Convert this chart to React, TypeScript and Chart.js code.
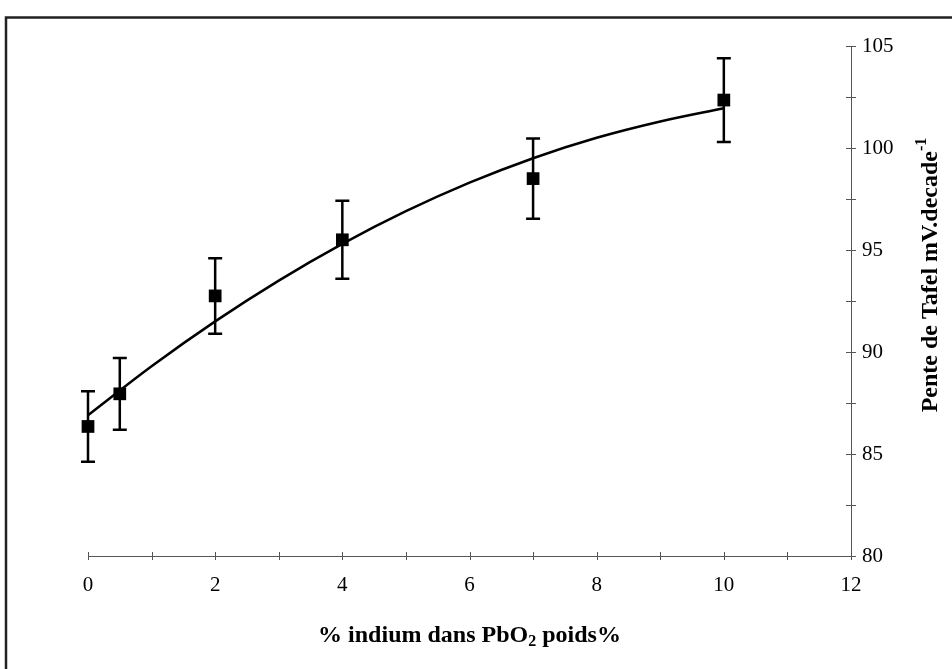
import React, { useEffect, useRef } from "react";
import { Chart, registerables } from "chart.js";

Chart.register(...registerables);

// Measured data
const indium = [0, 0.5, 2, 4, 7, 10];
const tafelSlope = [86.35, 87.95, 92.75, 95.5, 98.5, 102.35];
const errorSize = [1.73, 1.76, 1.85, 1.91, 1.97, 2.05];

// Trend curve
const trendX = [0, 1, 2, 3, 4, 5, 6, 7, 8, 9, 10];
const trendY = [86.9, 89.3, 91.5, 93.5, 95.3, 96.9, 98.3, 99.5, 100.5, 101.3, 101.95];

const xMin = 0;
const xMax = 12;
const yMin = 80;
const yMax = 105;
const xLabelTicks = [0, 2, 4, 6, 8, 10, 12];
const yLabelTicks = [80, 85, 90, 95, 100, 105];

const xTitleMain = "% indium dans PbO";
const xTitleSub = "2";
const xTitleEnd = " poids%";
const yTitleMain = "Pente de Tafel mV.decade";
const yTitleSup = "-1";

const SERIF = "'Liberation Serif', 'Times New Roman', serif";

const decorPlugin = {
  id: "decor",
  beforeDraw(chart: any) {
    const ctx = chart.ctx;
    ctx.save();
    ctx.strokeStyle = "#222";
    ctx.lineWidth = 2.5;
    ctx.beginPath();
    ctx.moveTo(6, 669);
    ctx.lineTo(6, 17.5);
    ctx.lineTo(952, 17.5);
    ctx.stroke();
    ctx.restore();
  },
  afterDraw(chart: any) {
    const ctx = chart.ctx;
    const xs = chart.scales.x;
    const ys = chart.scales.y;
    ctx.save();
    // tick marks crossing the axes
    ctx.strokeStyle = "#555";
    ctx.lineWidth = 1;
    const axisY = ys.getPixelForValue(yMin);
    const axisX = xs.getPixelForValue(xMax);
    ctx.beginPath();
    xs.ticks.forEach((t: any) => {
      const px = Math.round(xs.getPixelForValue(t.value)) + 0.5;
      ctx.moveTo(px, axisY - 4);
      ctx.lineTo(px, axisY + 4);
    });
    ys.ticks.forEach((t: any) => {
      const py = Math.round(ys.getPixelForValue(t.value)) + 0.5;
      ctx.moveTo(axisX - 5, py);
      ctx.lineTo(axisX + 5, py);
    });
    ctx.stroke();

    // x title
    ctx.fillStyle = "#000";
    ctx.textBaseline = "middle";
    const big = "bold 24px " + SERIF;
    const small = "bold 16px " + SERIF;
    ctx.font = big;
    const w1 = ctx.measureText(xTitleMain).width;
    const w3 = ctx.measureText(xTitleEnd).width;
    ctx.font = small;
    const w2 = ctx.measureText(xTitleSub).width;
    const total = w1 + w2 + w3;
    const cx = (xs.left + xs.right) / 2;
    const ty = 636;
    const sx = cx - total / 2;
    ctx.textAlign = "left";
    ctx.font = big;
    ctx.fillText(xTitleMain, sx, ty);
    ctx.font = small;
    ctx.fillText(xTitleSub, sx + w1, ty + 6);
    ctx.font = big;
    ctx.fillText(xTitleEnd, sx + w1 + w2, ty);

    // y title (rotated, reading bottom to top)
    ctx.save();
    ctx.translate(931, 275);
    ctx.rotate(-Math.PI / 2);
    ctx.font = big;
    const v1 = ctx.measureText(yTitleMain).width;
    ctx.font = small;
    const v2 = ctx.measureText(yTitleSup).width;
    const vt = v1 + v2;
    ctx.font = big;
    ctx.fillText(yTitleMain, -vt / 2, 0);
    ctx.font = small;
    ctx.fillText(yTitleSup, -vt / 2 + v1, -9);
    ctx.restore();
    ctx.restore();
  },
  beforeDatasetsDraw(chart: any) {
    const ctx = chart.ctx;
    const xs = chart.scales.x;
    const ys = chart.scales.y;
    ctx.save();
    ctx.strokeStyle = "#000";
    ctx.lineWidth = 2.5;
    ctx.beginPath();
    indium.forEach((x, i) => {
      const px = xs.getPixelForValue(x);
      const top = ys.getPixelForValue(tafelSlope[i] + errorSize[i]);
      const bot = ys.getPixelForValue(tafelSlope[i] - errorSize[i]);
      ctx.moveTo(px, top);
      ctx.lineTo(px, bot);
      ctx.moveTo(px - 7, top);
      ctx.lineTo(px + 7, top);
      ctx.moveTo(px - 7, bot);
      ctx.lineTo(px + 7, bot);
    });
    ctx.stroke();
    ctx.restore();
  },
};

export default function App() {
  const ref = useRef<HTMLCanvasElement | null>(null);
  useEffect(() => {
    document.body.style.margin = "0";
    document.body.style.background = "#fff";
    if (!ref.current) return;
    const chart = new Chart(ref.current, {
      type: "line",
      data: {
        datasets: [
          {
            data: trendX.map((x, i) => ({ x, y: trendY[i] })),
            borderColor: "#000",
            borderWidth: 2.5,
            pointRadius: 0,
            cubicInterpolationMode: "monotone",
            fill: false,
            clip: false,
          },
          {
            data: indium.map((x, i) => ({ x, y: tafelSlope[i] })),
            showLine: false,
            pointStyle: "rect",
            pointRadius: 9,
            backgroundColor: "#000",
            borderColor: "#000",
            borderWidth: 0,
            clip: false,
          },
        ],
      },
      options: {
        responsive: false,
        animation: false,
        events: [],
        layout: { padding: { left: 88, top: 46, right: 0, bottom: 0 } },
        plugins: {
          legend: { display: false },
          tooltip: { enabled: false },
          title: { display: false },
        },
        scales: {
          x: {
            type: "linear",
            position: "bottom",
            min: xMin,
            max: xMax,
            grid: { display: false, drawTicks: false },
            border: { display: true, color: "#555", width: 1 },
            afterFit: (s: any) => {
              s.height = 113;
            },
            ticks: {
              stepSize: 1,
              autoSkip: false,
              maxRotation: 0,
              padding: 17,
              color: "#000",
              font: { family: SERIF, size: 21 },
              callback: (v: any) => (xLabelTicks.includes(Number(v)) ? String(v) : ""),
            },
          },
          y: {
            type: "linear",
            position: "right",
            min: yMin,
            max: yMax,
            grid: { display: false, drawTicks: false },
            border: { display: true, color: "#555", width: 1 },
            afterFit: (s: any) => {
              s.width = 101;
            },
            ticks: {
              stepSize: 2.5,
              autoSkip: false,
              padding: 11,
              color: "#000",
              font: { family: SERIF, size: 21 },
              callback: (v: any) => (yLabelTicks.includes(Number(v)) ? String(v) : ""),
            },
          },
        },
      },
      plugins: [decorPlugin],
    } as any);
    return () => chart.destroy();
  }, []);
  return (
    <div style={{ width: 952, height: 669, background: "#fff" }}>
      <canvas ref={ref} width={952} height={669} style={{ display: "block" }} />
    </div>
  );
}
